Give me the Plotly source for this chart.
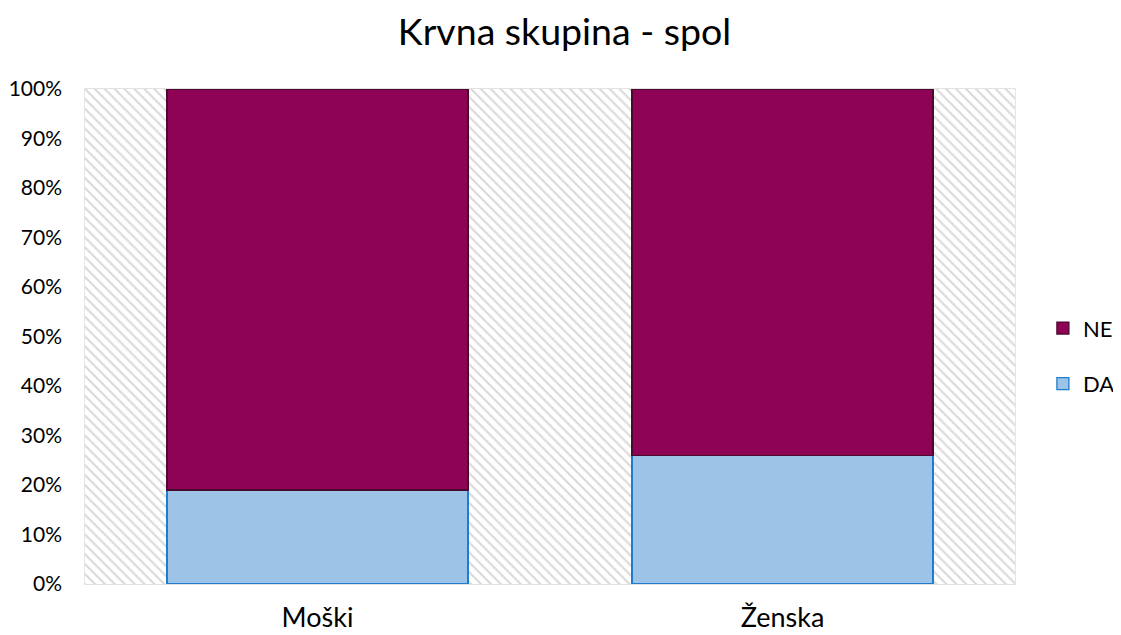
import plotly.graph_objects as go

categories = ["Moški", "Ženska"]
da_values = [19, 26]
ne_values = [81, 74]
y_ticks = list(range(0, 101, 10))
y_tick_labels = [f"{v}%" for v in y_ticks]

FONT = "Lato"
W, H = 1113, 627  # page body adds 8px margin

fig = go.Figure()

# hatched plot-area background
fig.add_trace(go.Scatter(
    x=[0, 1, 1, 0, 0], y=[0, 0, 1, 1, 0], fill="toself", mode="none",
    fillpattern=dict(shape="\\", fgcolor="#dadada", bgcolor="white", size=7, solidity=0.3),
    fillcolor="white", hoverinfo="skip", showlegend=False, xaxis="x", yaxis="y"))

fig.add_trace(go.Bar(
    name="DA", x=categories, y=da_values, xaxis="x2", yaxis="y2", legendgroup="da", legendrank=2,
    marker=dict(color="#9dc3e6", line=dict(color="#1f7dcf", width=1.3))))
fig.add_trace(go.Bar(
    name="NE", x=categories, y=ne_values, xaxis="x2", yaxis="y2", legendgroup="ne", legendrank=1,
    marker=dict(color="#8f0356", line=dict(color="#4a0a2e", width=1.3))))

fig.update_layout(
    template="none",
    width=W, height=H,
    margin=dict(l=77, r=106, t=81, b=51, autoexpand=False),
    paper_bgcolor="white", plot_bgcolor="white",
    barmode="stack", bargap=0.353,
    title=dict(text="Krvna skupina - spol", x=0.5, xanchor="center", y=1 - 24 / H, yref="container",
               yanchor="middle", font=dict(family=FONT, size=37.5, color="#000000")),
    font=dict(family=FONT, color="#000000"),
    xaxis=dict(range=[0, 1], visible=False, fixedrange=True, automargin=False),
    yaxis=dict(range=[0, 1], visible=False, fixedrange=True, automargin=False),
    xaxis2=dict(overlaying="x", type="category", showgrid=False, showline=False, automargin=False,
                ticks="", tickfont=dict(size=27, color="#000000"), ticklabelstandoff=15),
    yaxis2=dict(overlaying="y", range=[0, 100], tickvals=y_ticks, ticktext=y_tick_labels,
                showgrid=True, gridcolor="#d9d9d9", gridwidth=1.3, zeroline=False, automargin=False,
                showline=False,
                tickfont=dict(size=21, color="#000000"), ticks="", ticklabelstandoff=22),
    legend=dict(x=1.03, y=0.46, xanchor="left", yanchor="middle", traceorder="grouped",
                font=dict(size=22, color="#000000"), itemwidth=30, tracegroupgap=24,
                bgcolor="rgba(0,0,0,0)"),
    shapes=[dict(type="rect", xref="paper", yref="paper", x0=0, x1=1, y0=0, y1=1,
                 line=dict(color="#d9d9d9", width=1.3), layer="below")],
    showlegend=True,
)

fig.write_html("out.html")
